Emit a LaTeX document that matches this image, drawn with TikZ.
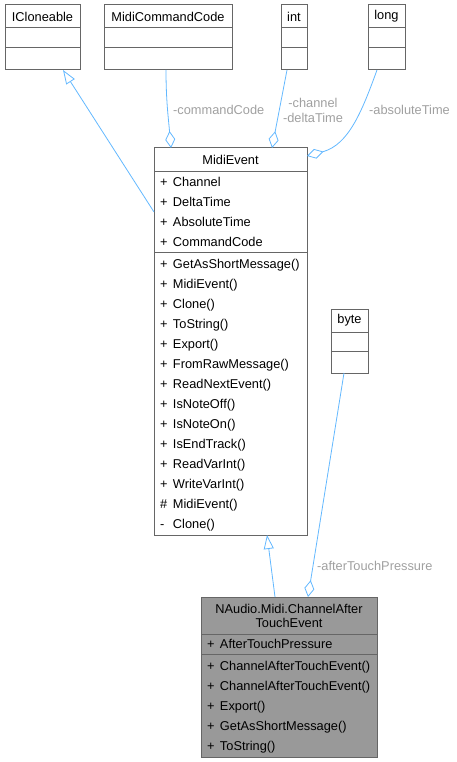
\documentclass[tikz,border=0pt]{standalone}
\usepackage{fontspec}
\setmainfont{Liberation Sans}
\usetikzlibrary{positioning,arrows.meta}

\definecolor{boxgray}{HTML}{666666}
\definecolor{edgeblue}{HTML}{63B8FF}
\definecolor{labelgray}{HTML}{A0A0A0}
\definecolor{fillgray}{HTML}{999999}

\newcommand{\umlfont}{\fontsize{12.8}{14}\selectfont}
\newcommand{\rowfont}{\fontsize{12.8}{20}\selectfont}
\newcommand{\mem}[2]{\makebox[13pt][l]{#1}#2\rule[-5.5pt]{0pt}{20pt}}

\tikzset{
  umlbox/.style={draw=boxgray, fill=white, line width=1pt, inner sep=0pt, outer sep=0pt, font=\umlfont},
  classhead/.style={umlbox, anchor=north west, align=center},
  members/.style={umlbox, font=\rowfont, align=left, inner xsep=6pt, inner ysep=0pt},
  edgelabel/.style={text=labelgray, inner sep=0pt, font=\fontsize{12.8}{15}\selectfont},
  inherit/.style={draw=edgeblue, line width=0.8pt, {Triangle[fill=white, length=14pt, width=10pt]}-},
  aggr/.style={draw=edgeblue, line width=0.8pt, {Diamond[fill=white, length=17pt, width=10pt]}-}
}

\begin{document}
\begin{tikzpicture}[x=1pt, y=-1pt]
  \useasboundingbox (0,0) rectangle (457,762);

  % top row
  \node[classhead, minimum width=75pt, minimum height=23pt] (icloneable) at (5,5) {ICloneable};
  \node[umlbox, minimum width=75pt, minimum height=20pt, below=0pt of icloneable] (icloneable-attr) {};
  \node[umlbox, minimum width=75pt, minimum height=22pt, below=0pt of icloneable-attr] (icloneable-ops) {};

  \node[classhead, minimum width=128pt, minimum height=23pt] (midicmd) at (104,5) {MidiCommandCode};
  \node[umlbox, minimum width=128pt, minimum height=20pt, below=0pt of midicmd] (midicmd-attr) {};
  \node[umlbox, minimum width=128pt, minimum height=22pt, below=0pt of midicmd-attr] (midicmd-ops) {};

  \node[classhead, minimum width=26pt, minimum height=23pt] (int) at (281,5) {int};
  \node[umlbox, minimum width=26pt, minimum height=20pt, below=0pt of int] (int-attr) {};
  \node[umlbox, minimum width=26pt, minimum height=22pt, below=0pt of int-attr] (int-ops) {};

  \node[classhead, minimum width=37pt, minimum height=23pt] (long) at (368,5) {long};
  \node[umlbox, minimum width=37pt, minimum height=20pt, below=0pt of long] (long-attr) {};
  \node[umlbox, minimum width=37pt, minimum height=22pt, below=0pt of long-attr] (long-ops) {};

  % MidiEvent
  \node[classhead, minimum width=153pt, minimum height=24pt] (midievent) at (154,148) {MidiEvent};
  \node[members, text width=141pt, below=0pt of midievent] (midievent-attr)
    {\mem{+}{Channel}\\\mem{+}{DeltaTime}\\\mem{+}{AbsoluteTime}\\\mem{+}{CommandCode}};
  \node[members, text width=141pt, inner ysep=1.5pt, below=0pt of midievent-attr] (midievent-ops)
    {\mem{+}{GetAsShortMessage()}\\\mem{+}{MidiEvent()}\\\mem{+}{Clone()}\\\mem{+}{ToString()}\\
     \mem{+}{Export()}\\\mem{+}{FromRawMessage()}\\\mem{+}{ReadNextEvent()}\\\mem{+}{IsNoteOff()}\\
     \mem{+}{IsNoteOn()}\\\mem{+}{IsEndTrack()}\\\mem{+}{ReadVarInt()}\\\mem{+}{WriteVarInt()}\\
     \mem{\#}{MidiEvent()}\\\mem{-}{Clone()}};

  % byte
  \node[classhead, minimum width=37pt, minimum height=23pt] (byte) at (331,309) {byte};
  \node[umlbox, minimum width=37pt, minimum height=19pt, below=0pt of byte] (byte-attr) {};
  \node[umlbox, minimum width=37pt, minimum height=22pt, below=0pt of byte-attr] (byte-ops) {};

  % ChannelAfterTouchEvent
  \node[classhead, fill=fillgray, minimum width=176pt, minimum height=37pt] (chaft) at (201,597)
    {NAudio.Midi.ChannelAfter\\TouchEvent};
  \node[members, fill=fillgray, text width=164pt, below=0pt of chaft] (chaft-attr)
    {\mem{+}{AfterTouchPressure}};
  \node[members, fill=fillgray, text width=164pt, inner ysep=1.5pt, below=0pt of chaft-attr] (chaft-ops)
    {\mem{+}{ChannelAfterTouchEvent()}\\\mem{+}{ChannelAfterTouchEvent()}\\\mem{+}{Export()}\\
     \mem{+}{GetAsShortMessage()}\\\mem{+}{ToString()}};

  % connectors
  \draw[inherit] ([xshift=-17pt]icloneable-ops.south east) -- (midievent-attr.west);
  \draw[aggr] ([xshift=17pt]midievent.north west) to[out=95,in=-90] ([xshift=62pt]midicmd-ops.south west);
  \draw[aggr] ([xshift=118pt]midievent.north west) -- ([xshift=6pt]int-ops.south west);
  \draw[aggr] ([yshift=4pt]midievent.east) to[out=15,in=-110] ([xshift=9pt]long-ops.south west);
  \draw[inherit] ([xshift=113pt]midievent-ops.south west) -- ([xshift=74pt]chaft.north west);
  \draw[aggr] ([xshift=107pt]chaft.north west) -- ([xshift=13pt]byte-ops.south west);

  \node[edgelabel, anchor=west] (lbl-cmd) at (173,110) {-commandCode};
  \node[edgelabel, align=center] (lbl-int) at (313,110) {-channel\\-deltaTime};
  \node[edgelabel, anchor=west] (lbl-long) at (369,110) {-absoluteTime};
  \node[edgelabel, anchor=west] (lbl-byte) at (317,566) {-afterTouchPressure};
\end{tikzpicture}
\end{document}
